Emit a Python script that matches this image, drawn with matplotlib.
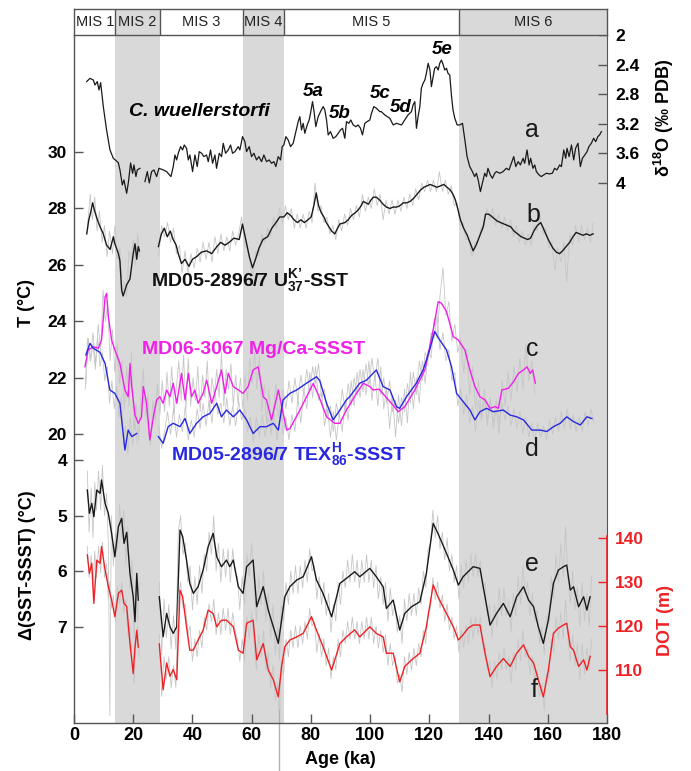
import numpy as np
import matplotlib
matplotlib.use("Agg")
import matplotlib.pyplot as plt

plt.rcParams['font.family'] = ['Liberation Sans', 'DejaVu Sans']
plt.rcParams['font.weight'] = 'bold'
plt.rcParams['mathtext.fontset'] = 'custom'
plt.rcParams['mathtext.rm'] = 'Liberation Sans:bold'
plt.rcParams['mathtext.it'] = 'Liberation Sans:bold:italic'
plt.rcParams['mathtext.bf'] = 'Liberation Sans:bold'

nan = np.nan

# MIS stages (ka)
mis_names = ["MIS 1", "MIS 2", "MIS 3", "MIS 4", "MIS 5", "MIS 6"]
mis_start = [0, 14, 29, 57, 71, 130]
mis_end = [14, 29, 57, 71, 130, 180]
mis_shaded = [False, True, False, True, False, True]

# a: C. wuellerstorfi d18O
d18_age = [4.28, 5.4, 6.52, 7.09, 7.87, 8.44, 9.0, 9.9, 11.0, 12.15, 13.27, 14.96, 15.52, 16.31, 16.87,
           17.78, 18.34, 19.12, 19.8, 20.25, 20.92, 21.37, 22.27, nan,
           23.96, 24.75, 25.42, 26.21, 27.0, 27.9, 28.69, 30.15, 31.27, 32.74, 33.52, 34.09, 34.65, 35.21,
           36.0, 36.67, 37.24, 38.02, 38.59, 39.15, 40.05, 40.84, 41.62, 42.3, 43.09, 43.87, 44.77, 45.34,
           46.12, 46.8, 47.59, 48.15, 49.05, 49.84, 50.4, 51.19, 52.09, 52.87, 53.55, 54.34, 55.46, 56.02,
           56.92, 57.71, 58.27, 59.17, 59.96, 60.75, 61.65, 62.44, 63.34, 64.12, 65.02, 65.92, 66.71, 67.5,
           68.17, 68.96, 69.75, 70.31, 70.87, 71.55, 72.33, 73.12, 74.02, 74.92, 75.71, 76.27, 76.84, 77.4,
           77.96, 78.75, 79.42, 79.87, 80.55, 81.0, 81.67, 82.46, 83.25, 84.15, 84.71, 85.28, 85.84, 86.62,
           87.52, 88.42, 89.21, 90.0, 90.68, 91.46, 92.02, 92.81, 93.49, 94.27, 95.17, 95.96, 96.75, 97.42,
           98.21, 99.0, 99.9, 100.46, 101.25, 102.15, 103.27, 103.8, 104.96, 106.65, 107.8, 108.9, 110.6,
           111.7, 112.8, 113.96, 114.5, 115.1, 115.65, 116.2, 116.8, 117.3, 117.9, 118.5, 119.0, 119.6,
           120.2, 120.7, 121.3, 121.8, 122.4, 123.0, 123.5, 124.1, 124.7, 125.2, 125.8, 126.3, 126.9, 127.5,
           128.0, 128.6, 129.4, 130.3, 131.2, 132.0, 132.75, 133.65, 134.55, 135.3, 135.9, 136.5, 137.25,
           137.9, 138.7, 139.3, 139.8, 140.6, 141.3, 142.1, 142.65, 143.8, 144.9, 146.0, 146.9, 147.7,
           148.5, 149.2, 150.0, 150.75, 151.65, 152.2, 153.0, 153.7, 154.2, 155.0, 155.6, 156.15, 157.05,
           157.8, 158.6, 159.5, 160.65, 161.55, 162.3, 163.1, 164.0, 164.6, 165.4, 166.05, 166.5, 167.2,
           168.0, 168.75, 169.4, 170.2, 171.0, 171.7, 172.5, 173.25, 173.9, 174.7, 175.5, 176.2, 176.9,
           177.5, 178.1]
d18_val = [2.63, 2.586, 2.608, 2.676, 2.63, 2.743, 2.644, 2.968, 3.284, 3.554, 3.667, 3.725, 3.824, 4.027,
           3.96, 4.14, 4.0, 3.73, 3.87, 3.757, 3.914, 3.824, 3.802, nan,
           3.982, 3.847, 4.0, 3.847, 3.824, 3.914, 3.802, 3.824, 3.847, 3.914, 3.779, 3.622, 3.689, 3.599,
           3.509, 3.554, 3.487, 3.532, 3.689, 3.622, 3.847, 3.622, 3.779, 3.577, 3.599, 3.644, 3.622, 3.712,
           3.554, 3.734, 3.622, 3.802, 3.599, 3.644, 3.464, 3.599, 3.554, 3.487, 3.599, 3.577, 3.509, 3.554,
           3.374, 3.442, 3.577, 3.509, 3.644, 3.599, 3.689, 3.644, 3.712, 3.622, 3.712, 3.689, 3.734, 3.712,
           3.779, 3.644, 3.689, 3.509, 3.487, 3.374, 3.419, 3.509, 3.464, 3.306, 3.171, 3.104, 3.284, 3.194,
           3.329, 3.216, 3.149, 3.059, 2.901, 3.014, 3.239, 3.104, 3.036, 2.968, 3.014, 3.149, 3.351, 3.306,
           3.396, 3.374, 3.329, 3.284, 3.261, 3.396, 3.171, 3.194, 3.149, 3.216, 3.239, 3.216, 3.261, 3.351,
           3.194, 3.171, 3.149, 3.059, 2.968, 2.991, 3.036, 3.036, 3.081, 3.126, 3.216, 3.194, 3.216,
           3.149, 3.081, 3.036, 2.946, 2.901, 3.261, 3.104, 2.968, 2.721, 2.653, 2.608, 2.518, 2.383,
           2.473, 2.698, 2.563, 2.45, 2.428, 2.473, 2.383, 2.338, 2.405, 2.473, 2.45, 2.518, 2.541, 2.833,
           3.014, 3.126, 3.216, 3.216, 3.194, 3.419, 3.644, 3.779, 3.847, 3.914, 3.869, 3.959, 4.117,
           4.004, 3.869, 3.914, 3.802, 3.892, 3.937, 3.869, 3.847, 3.869, 3.847, 3.802, 3.824, 3.734,
           3.644, 3.779, 3.712, 3.757, 3.667, 3.734, 3.554, 3.757, 3.667, 3.802, 3.757, 3.847, 3.892,
           3.914, 3.892, 3.869, 3.878, 3.869, 3.802, 3.824, 3.757, 3.779, 3.554, 3.667, 3.531, 3.644,
           3.487, 3.689, 3.531, 3.464, 3.779, 3.667, 3.622, 3.577, 3.509, 3.464, 3.396, 3.442, 3.374,
           3.351, 3.306]

# b: MD05-2896/7 UK'37-SST (smoothed)
sst_age = [4.3, 5.0, 5.6, 6.3, 7.0, 7.9, 8.8, 9.9, 11.0, 12.2, 13.3, 13.8, 15.0, 15.5, 16.1, 16.6, 17.2,
           17.8, 18.9, 19.5, 20.0, 20.6, 21.2, 21.7, 22.1, nan,
           28.5, 29.5, 30.5, 31.5, 32.5, 33.5, 34.5, 35.2, 36.3, 37.5, 38.8, 40.0, 41.5, 43.0, 44.8, 46.5,
           47.9, 49.5, 51.0, 52.4, 54.0, 55.8, 56.9, 58.0, 59.2, 60.3, 61.3, 62.5, 63.8, 65.4, 66.8, 68.2,
           69.5, 70.9, 72.0, 73.2, 74.3, 75.5, 76.6, 77.8, 79.0, 80.1, 81.0, 81.8, 82.6, 83.5, 84.4, 85.2,
           86.1, 87.0, 88.1, 89.0, 89.8, 91.5, 92.6, 93.7, 95.0, 96.0, 97.0, 97.7, 98.6, 99.4, 100.3,
           101.1, 102.1, 103.2, 104.4, 105.5, 106.7, 107.8, 109.0, 110.1, 111.2, 112.4, 113.5, 114.6,
           115.8, 117.0, 118.1, 119.2, 120.3, 121.5, 122.6, 123.7, 124.9, 126.0, 127.1, 128.0, 128.8,
           129.7, 130.5, 131.6, 132.8, 133.9, 134.8, 135.8, 136.9, 138.2, 139.0, 140.0, 140.7, 141.8,
           143.0, 144.1, 145.2, 146.4, 147.5, 148.6, 149.8, 151.0, 152.1, 153.2, 154.2, 155.3, 156.5,
           157.6, 158.5, 159.3, 160.4, 161.7, 162.9, 164.0, 165.0, 166.2, 167.4, 168.5, 169.6, 170.8,
           171.9, 173.0, 174.2, 175.3]
sst_val = [27.1, 27.6, 27.85, 28.2, 27.9, 27.6, 27.35, 27.1, 26.7, 26.55, 27.0, 26.75, 26.4, 26.15, 25.1,
           24.9, 25.1, 25.3, 25.5, 26.0, 26.4, 26.75, 26.2, 26.65, 26.5, nan,
           26.65, 27.1, 27.3, 27.0, 27.2, 26.9, 26.7, 26.4, 26.05, 26.2, 25.95, 26.2, 26.3, 26.45, 26.5,
           26.4, 26.6, 26.8, 26.7, 26.8, 26.95, 26.9, 27.45, 26.9, 26.3, 25.9, 26.2, 26.6, 26.9, 27.0, 27.3,
           27.5, 27.7, 27.7, 27.85, 27.75, 27.6, 27.5, 27.6, 27.5, 27.6, 27.7, 28.1, 28.55, 28.1, 27.85,
           27.7, 27.5, 27.35, 27.2, 27.1, 27.3, 27.45, 27.5, 27.6, 27.75, 27.85, 27.95, 28.1, 28.25, 28.2,
           28.15, 28.3, 28.4, 28.4, 28.3, 28.15, 28.05, 28.0, 28.05, 28.05, 28.1, 28.2, 28.2, 28.25, 28.35,
           28.5, 28.65, 28.75, 28.8, 28.85, 28.8, 28.75, 28.8, 28.85, 28.75, 28.65, 28.5, 28.3, 27.95,
           27.6, 27.3, 27.05, 26.75, 26.5, 26.7, 27.0, 27.35, 27.8, 27.8, 27.75, 27.65, 27.55, 27.5, 27.45,
           27.4, 27.35, 27.2, 27.1, 27.0, 26.95, 26.9, 26.95, 27.2, 27.4, 27.5, 27.3, 27.1, 26.85, 26.6,
           26.45, 26.4, 26.5, 26.65, 26.8, 27.0, 27.15, 27.1, 27.05, 27.1, 27.05, 27.1]

# b raw (grey)
sst_raw_age = [4.5, 5.5, 6.2, 7.0, 7.8, 8.6, 9.5, 10.3, 11.2, 12.0, 13.0, 13.8, 14.6, 15.5, 16.3, 17.0,
               17.8, 18.6, 19.3, 20.1, 20.8, 21.5, 22.2, nan,
               28.6, 29.6, 30.6, 31.6, 32.6, 33.6, 34.6, 35.6, 36.5, 37.5, 38.5, 39.5, 40.6, 41.6, 42.6,
               43.6, 44.6, 45.6, 46.6, 47.6, 48.6, 49.6, 50.6, 51.6, 52.6, 53.6, 54.6, 55.6, 56.6, 57.6,
               58.6, 59.6, 60.4, 61.4, 62.4, 63.4, 64.4, 65.4, 66.4, 67.4, 68.4, 69.4, 70.4, 71.4, 72.4,
               73.4, 74.4, 75.4, 76.4, 77.4, 78.4, 79.4, 80.4, 81.4, 82.4, 83.4, 84.4, 85.4, 86.4, 87.4,
               88.4, 89.4, 90.4, 91.4, 92.4, 93.4, 94.4, 95.4, 96.4, 97.4, 98.4, 99.4, 100.4, 101.4, 102.4,
               103.4, 104.4, 105.4, 106.4, 107.4, 108.4, 109.4, 110.4, 111.4, 112.4, 113.4, 114.4, 115.4,
               116.4, 117.4, 118.4, 119.4, 120.4, 121.4, 122.4, 123.4, 124.4, 125.4, 126.4, 127.4, 128.4,
               129.4, 130.4, 131.4, 132.4, 133.4, 134.4, 135.4, 136.4, 137.4, 138.4, 139.4, 140.4, 141.4,
               142.4, 143.4, 144.4, 145.4, 146.4, 147.4, 148.4, 149.4, 150.4, 151.4, 152.4, 153.4, 154.4,
               155.4, 156.4, 157.4, 158.4, 159.4, 160.4, 161.4, 162.4, 163.4, 164.4, 165.4, 166.4, 167.4,
               168.4, 169.4, 170.4, 171.4, 172.4, 173.4, 174.4, 175.4]
sst_raw = [27.3, 28.5, 27.6, 28.4, 27.2, 27.9, 26.8, 27.4, 26.3, 27.2, 26.4, 27.4, 26.2, 26.6, 24.9, 25.4,
           24.9, 26.5, 26.2, 26.9, 26.0, 27.1, 26.3, nan,
           26.3, 27.4, 27.0, 27.5, 26.8, 27.3, 26.4, 26.7, 25.7, 26.5, 25.7, 26.4, 25.9, 26.6, 26.1, 26.8,
           26.2, 26.8, 26.1, 27.0, 26.4, 27.1, 26.5, 27.0, 26.5, 27.2, 26.7, 27.1, 27.7, 26.7, 26.6, 26.0,
           25.6, 26.5, 26.3, 27.1, 26.8, 27.3, 27.0, 27.7, 27.3, 28.0, 27.5, 28.1, 27.6, 28.0, 27.3, 27.8,
           27.3, 27.8, 27.3, 27.9, 27.5, 28.9, 27.9, 28.1, 27.5, 27.7, 27.1, 27.4, 26.9, 27.6, 27.2, 27.8,
           27.4, 28.0, 27.6, 28.1, 27.7, 28.5, 27.9, 28.4, 28.0, 28.7, 28.1, 28.5, 27.6, 28.3, 27.8, 28.3,
           27.8, 28.3, 27.9, 28.4, 28.0, 28.5, 28.1, 28.7, 28.3, 28.9, 28.6, 29.0, 28.6, 29.0, 28.6, 29.3,
           28.6, 29.0, 28.5, 28.8, 28.1, 28.2, 27.4, 27.5, 26.9, 26.9, 26.3, 26.8, 26.8, 27.3, 27.4, 28.0,
           27.6, 28.0, 27.4, 27.8, 27.3, 27.7, 27.2, 27.6, 27.0, 27.4, 26.8, 27.2, 26.7, 27.1, 26.7, 27.4,
           27.2, 27.8, 27.1, 27.3, 26.6, 26.8, 25.8, 26.6, 26.1, 26.8, 25.4, 27.1, 26.7, 27.4, 26.8, 27.4,
           26.9, 27.3, 26.8, 27.5]

# c: MD06-3067 Mg/Ca-SSST (smoothed)
mg_age = [3.7, 4.8, 6.5, 8.2, 9.3, 10.5, 11.0, 11.6, 12.7, 13.8, 15.5, 17.2, 18.3, 18.9, 19.5, 20.6, 21.7,
          22.8, 23.4, 24.5, 25.6, 26.8, 27.9, 29.0, 30.1, 31.3, 32.4, 33.5, 34.7, 36.3, 37.5, 38.6, 39.7,
          40.8, 41.9, 43.6, 44.8, 46.5, 48.2, 49.8, 51.0, 52.1, 53.8, 55.5, 57.1, 58.8, 60.5, 62.2, 63.9,
          65.0, 66.7, 69.0, 71.8, 72.9, 76.3, 80.8, 82.5, 85.3, 88.0, 89.8, 92.0, 95.4, 97.7, 99.9, 101.0,
          103.0, 105.5, 108.0, 109.5, 111.7, 115.1, 118.5, 121.3, 123.0, 124.1, 125.8, 128.1, 129.8,
          132.0, 133.7, 135.4, 137.1, 138.8, 140.5, 142.2, 143.3, 144.5, 146.7, 148.4, 150.1, 151.8,
          153.0, 154.1, 154.9, 155.8]
mg_sst = [22.39, 22.99, 23.1, 23.05, 23.34, 24.87, 24.99, 24.17, 23.34, 22.99, 22.51, 21.57, 21.33, 22.51,
          21.69, 20.68, 20.39, 20.62, 21.69, 21.1, 19.8, 20.62, 21.22, 21.33, 21.1, 21.57, 21.33, 21.81,
          21.1, 22.16, 21.22, 22.16, 21.33, 21.57, 21.1, 21.45, 21.92, 21.1, 21.69, 22.28, 21.45, 22.16,
          21.69, 21.57, 21.45, 21.69, 22.28, 22.39, 21.33, 21.22, 20.51, 21.57, 20.15, 20.2, 20.86, 21.8,
          21.4, 20.62, 20.39, 20.39, 20.86, 21.45, 21.81, 21.69, 21.57, 21.6, 21.3, 21.0, 20.8, 20.98,
          21.57, 22.28, 23.7, 24.7, 24.64, 24.35, 23.46, 23.34, 22.99, 22.28, 21.69, 21.33, 21.22, 20.92,
          20.98, 20.92, 21.57, 21.63, 21.86, 22.16, 22.28, 22.39, 22.16, 22.28, 21.81]

mg_raw_age = [3.8, 4.6, 5.5, 6.4, 7.3, 8.2, 9.0, 9.8, 10.6, 11.4, 12.2, 13.0, 13.8, 14.6, 15.4, 16.2, 17.0,
              17.8, 18.6, 19.4, 20.2, 21.0, 21.8, 22.6, 23.4, 24.2, 25.0, 25.8, 26.6, 27.4, 28.2, 29.0,
              29.8, 30.6, 31.4, 32.2, 33.0, 33.8, 34.6, 35.4, 36.2, 37.0, 37.8, 38.6, 39.4, 40.2, 41.0,
              41.8, 42.6, 43.4, 44.2, 45.0, 45.8, 46.6, 47.4, 48.2, 49.0, 49.8, 50.6, 51.4, 52.2, 53.0,
              53.8, 54.6, 55.4, 56.2, 57.0, 57.8, 58.6, 59.4, 60.2, 61.0, 61.8, 62.6, 63.4, 64.2, 65.0,
              65.8, 66.6, 67.4, 68.2, 69.0, 69.8, 70.6, 71.6, 72.6, 73.6, 74.6, 75.6, 76.6, 77.6, 78.6,
              79.6, 80.6, 81.6, 82.6, 83.6, 84.6, 85.6, 86.6, 87.6, 88.6, 89.6, 90.6, 91.6, 92.6, 93.6,
              94.6, 95.6, 96.6, 97.6, 98.6, 99.6, 100.6, 101.6, 102.6, 103.6, 104.6, 105.6, 106.6, 107.6,
              108.6, 109.6, 110.6, 111.6, 112.6, 113.6, 114.6, 115.6, 116.6, 117.6, 118.6, 119.6, 120.6,
              121.6, 122.6, 123.6, 124.6, 125.6, 126.6, 127.6, 128.6, 129.6, 130.6, 131.6, 132.6, 133.6,
              134.6, 135.6, 136.6, 137.6, 138.6, 139.6, 140.6, 141.6, 142.6, 143.6, 144.6, 145.6, 146.6,
              147.6, 148.6, 149.6, 150.6, 151.6, 152.6, 153.6, 154.6, 155.6]
mg_raw = [21.6, 23.4, 22.6, 23.6, 22.5, 23.9, 22.9, 25.1, 24.0, 24.6, 22.6, 23.7, 22.2, 23.2, 21.8, 22.6,
          20.9, 22.4, 21.0, 22.9, 20.2, 21.1, 19.8, 21.3, 22.3, 20.6, 21.4, 19.6, 21.2, 20.5, 21.8, 20.7,
          21.9, 20.8, 22.2, 21.0, 22.4, 20.7, 21.7, 22.6, 21.2, 22.8, 20.9, 22.7, 21.0, 22.0, 21.2, 22.4,
          20.8, 22.1, 21.3, 22.6, 20.8, 22.0, 21.4, 22.3, 21.3, 22.9, 21.0, 22.3, 21.6, 22.5, 21.0, 22.1,
          21.1, 22.0, 20.9, 22.1, 21.2, 22.7, 21.8, 22.9, 21.6, 22.8, 20.8, 21.8, 20.4, 21.6, 20.1, 20.9,
          21.8, 20.6, 21.3, 20.0, 20.6, 19.8, 20.7, 20.1, 21.3, 20.4, 21.6, 20.9, 22.2, 21.3, 22.4, 21.2,
          21.5, 20.3, 20.9, 19.9, 20.8, 19.8, 20.7, 20.1, 21.2, 20.5, 21.9, 21.0, 22.2, 21.3, 22.3, 21.4,
          22.6, 21.2, 22.1, 21.0, 22.4, 20.9, 21.6, 20.2, 21.3, 19.9, 21.4, 20.3, 21.6, 20.4, 22.2, 20.9,
          22.0, 21.1, 22.6, 21.8, 23.0, 22.7, 24.1, 23.4, 24.9, 25.9, 24.2, 24.7, 23.3, 23.9, 22.9, 23.4,
          22.2, 23.0, 21.4, 22.4, 20.9, 21.9, 20.6, 21.6, 20.3, 21.3, 20.2, 20.9, 20.0, 21.9, 21.0, 22.2,
          21.2, 22.4, 21.5, 22.7, 21.6, 23.2, 21.9, 22.6, 21.4]

# d: MD05-2896/7 TEXH86-SSST (smoothed)
tex_age = [4.0, 5.4, 6.5, 8.8, 10.5, 12.1, 13.8, 15.5, 16.6, 17.2, 18.3, 19.5, 21.2, nan,
           28.5, 30.1, 31.8, 33.5, 35.8, 37.5, 39.1, 41.4, 43.6, 45.9, 48.2, 49.8, 51.5, 53.8, 56.0, 58.3,
           60.5, 62.8, 65.0, 67.3, 69.0, 70.6, 72.9, 75.2, 78.5, 81.9, 83.0, 85.3, 87.5, 89.8, 92.0, 93.1,
           96.5, 98.8, 102.1, 104.4, 106.7, 108.9, 110.0, 112.3, 115.6, 117.9, 120.1, 121.8, 123.5, 125.8,
           127.5, 129.2, 131.4, 133.7, 135.4, 137.1, 139.3, 141.6, 145.0, 147.3, 149.5, 151.8, 154.6,
           157.4, 159.7, 161.9, 164.2, 166.4, 168.7, 171.0, 173.2, 174.9]
tex_sst = [22.81, 23.22, 23.05, 22.9, 22.51, 21.57, 21.45, 21.1, 20.03, 19.44, 20.15, 19.92, 20.03, nan,
           19.92, 19.68, 20.27, 20.39, 20.27, 20.56, 20.03, 20.39, 20.62, 20.74, 21.1, 20.62, 20.86, 20.62,
           20.86, 20.51, 20.03, 20.27, 20.27, 20.39, 20.15, 21.22, 21.45, 21.57, 21.81, 22.04, 21.9, 21.1,
           20.51, 20.86, 21.22, 21.33, 21.81, 21.92, 22.28, 21.69, 21.57, 20.98, 20.92, 21.33, 21.81,
           22.28, 22.99, 23.64, 23.34, 22.99, 22.39, 21.45, 21.16, 20.86, 20.51, 20.8, 20.92, 20.8, 20.86,
           20.68, 20.62, 20.51, 20.15, 20.15, 20.1, 20.27, 20.39, 20.62, 20.45, 20.33, 20.62, 20.56]

tex_raw_age = [4.0, 4.8, 5.6, 6.4, 7.2, 8.0, 8.8, 9.6, 10.4, 11.2, 12.0, 12.8, 13.6, 14.4, 15.2, 16.0,
               16.8, 17.4, 18.2, 19.0, 19.8, 20.6, 21.3, nan,
               28.6, 29.6, 30.6, 31.6, 32.6, 33.6, 34.6, 35.6, 36.6, 37.6, 38.6, 39.6, 40.6, 41.6, 42.6,
               43.6, 44.6, 45.6, 46.6, 47.6, 48.6, 49.6, 50.6, 51.6, 52.6, 53.6, 54.6, 55.6, 56.6, 57.6,
               58.6, 59.6, 60.6, 61.6, 62.6, 63.6, 64.6, 65.6, 66.6, 67.6, 68.6, 69.6, 70.6, 71.6, 72.6,
               73.6, 74.6, 75.6, 76.6, 77.6, 78.6, 79.6, 80.6, 81.6, 82.6, 83.6, 84.6, 85.6, 86.6, 87.6,
               88.6, 89.6, 90.6, 91.6, 92.6, 93.6, 94.6, 95.6, 96.6, 97.6, 98.6, 99.6, 100.6, 101.6, 102.6,
               103.6, 104.6, 105.6, 106.6, 107.6, 108.6, 109.6, 110.6, 111.6, 112.6, 113.6, 114.6, 115.6,
               116.6, 117.6, 118.6, 119.6, 120.6, 121.6, 122.6, 123.6, 124.6, 125.6, 126.6, 127.6, 128.6,
               129.6, 130.6, 131.6, 132.6, 133.6, 134.6, 135.6, 136.6, 137.6, 138.6, 139.6, 140.6, 141.6,
               142.6, 143.6, 144.6, 145.6, 146.6, 147.6, 148.6, 149.6, 150.6, 151.6, 152.6, 153.6, 154.6,
               155.6, 156.6, 157.6, 158.6, 159.6, 160.6, 161.6, 162.6, 163.6, 164.6, 165.6, 166.6, 167.6,
               168.6, 169.6, 170.6, 171.6, 172.6, 173.6, 174.6, 175.6]
tex_raw = [21.8, 23.4, 22.6, 23.2, 22.3, 23.4, 22.4, 22.9, 21.9, 22.4, 21.1, 21.9, 20.9, 21.7, 20.6, 21.3,
           19.6, 20.3, 19.3, 20.6, 19.6, 20.5, 19.7, nan,
           20.3, 19.5, 20.1, 20.8, 20.0, 20.9, 19.9, 20.7, 20.1, 21.0, 19.8, 20.5, 19.9, 20.9, 20.2, 21.1,
           20.3, 21.2, 20.4, 21.5, 20.7, 21.1, 20.4, 21.3, 20.3, 21.0, 20.3, 21.2, 20.5, 20.9, 20.1, 20.6,
           19.7, 20.6, 19.9, 20.7, 19.9, 20.6, 20.0, 20.8, 19.8, 20.7, 21.6, 20.9, 21.9, 21.1, 22.0, 21.2,
           22.1, 21.4, 22.3, 21.5, 22.4, 21.8, 22.5, 21.3, 21.6, 20.6, 21.0, 20.1, 21.1, 20.6, 21.6, 20.8,
           21.8, 21.0, 22.0, 21.4, 22.3, 21.5, 22.5, 21.7, 22.7, 21.9, 22.7, 21.4, 22.0, 21.1, 21.9, 20.8,
           21.2, 20.4, 21.3, 20.8, 21.8, 21.1, 22.2, 21.4, 22.6, 21.9, 22.9, 22.6, 23.6, 23.4, 24.2, 23.0,
           23.6, 22.6, 23.0, 21.9, 22.2, 21.0, 21.6, 20.7, 21.4, 20.4, 21.0, 20.1, 21.2, 20.5, 21.3, 20.5,
           21.1, 20.4, 21.2, 20.4, 21.1, 20.5, 21.0, 20.3, 20.9, 20.2, 20.8, 20.0, 20.6, 19.9, 20.4, 19.8,
           20.4, 19.9, 20.3, 19.8, 20.5, 20.0, 20.6, 20.1, 20.8, 20.2, 20.9, 20.2, 20.7, 20.1, 20.6, 20.1,
           20.8, 20.3, 20.9, 20.4]

# e: delta(SST-SSST) and f: DOT (smoothed, same ages)
dlt_age = [4.5, 5.2, 6.0, 6.7, 7.7, 8.8, 9.3, 10.5, 11.6, 12.7, 13.8, 15.0, 16.1, 16.9, 17.8, 18.9, 20.0,
           20.6, 21.2, 21.7, nan,
           28.8, 30.1, 31.3, 32.4, 33.5, 34.7, 35.8, 36.7, 38.0, 39.1, 40.3, 41.9, 43.6, 45.3, 47.0, 48.2,
           49.8, 51.5, 52.6, 53.8, 55.5, 57.1, 58.3, 60.5, 61.7, 63.9, 65.6, 67.3, 69.0, 70.1, 71.2, 72.9,
           75.2, 77.4, 80.2, 81.9, 84.1, 87.0, 89.8, 92.0, 94.8, 96.5, 99.9, 102.1, 104.4, 105.5, 107.8,
           110.0, 111.7, 114.0, 116.8, 119.0, 121.3, 122.9, 125.8, 128.1, 129.8, 131.4, 133.1, 134.8,
           137.1, 138.8, 140.5, 142.7, 145.0, 147.3, 149.5, 151.8, 153.5, 155.2, 156.8, 158.5, 160.2,
           161.9, 163.6, 165.3, 166.4, 167.6, 168.7, 170.4, 172.1, 173.2, 174.3]
dlt_val = [4.54, 4.96, 4.78, 5.02, 4.54, 4.6, 4.36, 4.78, 4.96, 5.32, 5.74, 5.2, 5.05, 5.5, 5.3, 6.04, 6.46,
           6.91, 6.04, 6.52, nan,
           6.46, 7.18, 6.76, 7.0, 7.12, 7.0, 5.26, 5.38, 5.8, 6.22, 6.4, 6.28, 5.98, 5.56, 5.32, 5.74,
           5.92, 5.8, 5.92, 5.8, 6.28, 6.4, 5.92, 5.8, 6.64, 6.28, 6.7, 7.0, 7.3, 6.88, 6.46, 6.28, 6.16,
           6.1, 5.74, 6.16, 6.4, 6.82, 6.22, 6.13, 6.01, 6.1, 5.95, 6.1, 6.28, 6.67, 6.52, 7.06, 6.76,
           6.64, 6.55, 6.04, 5.14, 5.32, 5.68, 5.98, 6.25, 6.1, 6.01, 5.92, 5.95, 6.46, 6.97, 6.76, 6.58,
           6.82, 6.46, 6.28, 6.52, 6.64, 7.0, 7.3, 6.88, 6.22, 5.98, 5.92, 5.89, 6.34, 6.28, 6.64, 6.46,
           6.7, 6.46]
dot_val = [136.1, 131.9, 134.2, 125.1, 134.9, 134.2, 138.0, 132.7, 128.9, 125.9, 122.1, 127.4, 128.1, 125.1,
           124.4, 116.0, 109.2, 115.2, 119.0, 115.2, nan,
           115.9, 105.5, 111.6, 108.6, 110.1, 107.8, 128.1, 126.6, 119.8, 114.5, 114.5, 116.8, 119.0, 123.6,
           122.8, 119.8, 121.3, 121.3, 120.6, 119.8, 114.5, 113.8, 120.6, 121.3, 112.3, 116.0, 110.0, 107.8,
           103.9, 110.8, 115.3, 116.8, 117.5, 118.3, 122.1, 119.0, 115.3, 110.0, 116.0, 117.5, 119.1, 117.5,
           119.8, 118.3, 117.5, 113.8, 113.8, 107.3, 110.8, 112.3, 113.8, 119.8, 129.3, 126.6, 122.8, 119.8,
           116.8, 118.0, 119.5, 120.2, 120.2, 113.8, 108.5, 110.8, 112.6, 110.8, 113.8, 115.7, 113.1, 111.6,
           107.8, 103.9, 110.0, 118.3, 119.5, 120.2, 120.6, 115.3, 114.5, 110.8, 112.3, 110.0, 113.1]

# raw (grey) for e and f
ef_raw_age = [4.5, 5.1, 5.8, 6.4, 7.0, 7.6, 8.3, 9.0, 9.6, 10.3, 11.0, 11.6, 12.1, 12.6, 13.3, 14.0, 14.7,
              15.4, 16.1, 16.8, 17.5, 18.2, 18.9, 19.6, 20.3, 20.9, 21.5, 22.0, nan,
              28.8, 29.6, 30.4, 31.2, 32.0, 32.8, 33.6, 34.4, 35.2, 36.0, 36.8, 37.6, 38.4, 39.2, 40.0,
              40.8, 41.6, 42.4, 43.2, 44.0, 44.8, 45.6, 46.4, 47.2, 48.0, 48.8, 49.6, 50.4, 51.2, 52.0,
              52.8, 53.6, 54.4, 55.2, 56.0, 56.8, 57.6, 58.4, 59.2, 60.0, 60.8, 61.6, 62.4, 63.2, 64.0,
              64.8, 65.6, 66.4, 67.2, 68.0, 68.8, 69.4, 70.0, 70.8, 71.6, 72.4, 73.2, 74.0, 74.8, 75.6,
              76.4, 77.2, 78.0, 78.8, 79.6, 80.4, 81.2, 82.0, 82.8, 83.6, 84.4, 85.2, 86.0, 86.8, 87.6,
              88.4, 89.2, 90.0, 90.8, 91.6, 92.4, 93.2, 94.0, 94.8, 95.6, 96.4, 97.2, 98.0, 98.8, 99.6,
              100.4, 101.2, 102.0, 102.8, 103.6, 104.4, 105.2, 106.0, 106.8, 107.6, 108.4, 109.2, 110.0,
              110.8, 111.6, 112.4, 113.2, 114.0, 114.8, 115.6, 116.4, 117.2, 118.0, 118.8, 119.6, 120.4,
              121.2, 122.0, 122.8, 123.6, 124.4, 125.2, 126.0, 126.8, 127.6, 128.4, 129.2, 130.0, 130.8,
              131.6, 132.4, 133.2, 134.0, 134.8, 135.6, 136.4, 137.2, 138.0, 138.8, 139.6, 140.4, 141.2,
              142.0, 142.8, 143.6, 144.4, 145.2, 146.0, 146.8, 147.6, 148.4, 149.2, 150.0, 150.8, 151.6,
              152.4, 153.2, 154.0, 154.8, 155.6, 156.4, 157.2, 158.0, 158.8, 159.6, 160.4, 161.2, 162.0,
              162.8, 163.6, 164.4, 165.2, 166.0, 166.8, 167.6, 168.4, 169.2, 170.0, 170.8, 171.6, 172.4,
              173.2, 174.0, 174.8]
dlt_raw = [4.2, 5.3, 4.5, 5.4, 4.4, 4.9, 4.2, 4.9, 4.1, 5.0, 4.6, 5.5, 8.6, 5.0, 5.9, 5.3, 5.6, 4.8, 5.4,
           4.9, 5.9, 5.2, 6.3, 5.8, 7.2, 6.3, 6.9, 6.2, nan,
           6.2, 7.5, 6.5, 7.2, 6.6, 7.4, 6.8, 7.4, 5.3, 5.0, 5.7, 5.5, 6.2, 5.9, 6.7, 6.1, 6.6, 5.9, 6.4,
           5.7, 6.0, 5.3, 5.7, 5.0, 6.0, 5.5, 6.2, 5.6, 6.1, 5.6, 6.2, 5.6, 6.0, 6.1, 6.7, 6.1, 6.6, 5.7,
           6.1, 5.5, 6.2, 6.9, 6.1, 6.6, 6.0, 6.9, 6.4, 7.2, 6.6, 7.5, 7.0, 7.6, 6.6, 6.9, 6.2, 6.6, 6.0,
           6.4, 5.9, 6.4, 5.9, 6.3, 5.8, 6.2, 5.6, 6.0, 5.9, 6.5, 6.1, 6.6, 6.2, 6.8, 6.4, 7.1, 6.6, 6.9,
           6.2, 6.6, 6.0, 6.3, 5.8, 6.2, 5.7, 6.2, 5.8, 6.3, 5.8, 6.2, 5.7, 6.2, 5.8, 6.3, 5.9, 6.5, 6.1,
           6.6, 6.2, 6.9, 6.3, 6.8, 6.6, 7.1, 6.8, 7.3, 6.5, 6.9, 6.4, 6.8, 6.4, 6.8, 6.3, 6.6, 6.0, 6.3,
           5.6, 5.5, 4.9, 5.4, 5.0, 5.6, 5.3, 5.8, 5.4, 6.0, 5.7, 6.2, 5.9, 6.5, 5.9, 6.3, 5.8, 6.2, 5.7,
           6.1, 5.7, 6.1, 5.8, 6.3, 6.2, 6.8, 6.6, 7.2, 6.6, 7.0, 6.3, 6.8, 6.3, 6.8, 6.5, 7.1, 6.4, 6.8,
           6.1, 6.6, 5.9, 6.4, 6.2, 6.8, 6.4, 6.9, 6.7, 7.3, 7.0, 7.5, 6.8, 6.9, 6.1, 6.5, 5.7, 6.2, 5.5,
           6.1, 5.2, 6.1, 6.6, 6.0, 6.7, 6.3, 7.0, 6.2, 6.9, 6.4, 7.0, 6.1]
dot_raw = [138, 131, 136, 128, 137, 131, 138, 132, 139, 131, 134, 126, 130, 124, 127, 121, 129, 125, 130,
           123, 126, 118, 120, 113, 107, 117, 120, 113, nan,
           118, 104, 113, 108, 113, 106, 111, 106, 126, 130, 124, 125, 118, 120, 112, 117, 113, 119, 115,
           122, 119, 125, 121, 126, 118, 123, 118, 124, 119, 124, 118, 123, 119, 117, 112, 117, 112, 122,
           117, 123, 116, 110, 118, 113, 119, 110, 114, 106, 111, 103, 107, 101, 112, 109, 117, 113, 119,
           115, 120, 115, 120, 116, 121, 117, 124, 120, 121, 114, 118, 113, 117, 111, 115, 108, 113, 110,
           117, 113, 119, 116, 121, 117, 122, 117, 121, 116, 121, 117, 122, 117, 122, 116, 120, 115, 119,
           114, 118, 111, 116, 111, 113, 107, 109, 105, 113, 109, 114, 110, 115, 111, 116, 113, 119, 116,
           123, 124, 131, 126, 130, 124, 127, 121, 125, 119, 122, 117, 120, 114, 119, 115, 120, 116, 122,
           117, 122, 118, 122, 116, 116, 110, 112, 106, 112, 108, 114, 110, 115, 110, 113, 107, 114, 110,
           117, 112, 119, 113, 115, 109, 113, 108, 110, 104, 107, 101, 109, 108, 117, 114, 122, 117, 123,
           117, 126, 117, 112, 118, 111, 116, 108, 116, 109, 115, 110, 117]

# text items
curve_letters = ["a", "b", "c", "d", "e", "f"]
substage_labels = ["5a", "5b", "5c", "5d", "5e"]

W, H = 691, 771


def fx(px):
    return px / W


def fy(py):
    return 1 - py / H


spine_c = "#555555"
grey_raw = "#c6c6c6"
magenta = "#f020e8"
blue = "#2828e0"
red = "#ee2226"
shade = "#d9d9d9"
raw_lw = 0.6

fig = plt.figure(figsize=(6.91, 7.71), dpi=100)
ax = fig.add_axes([fx(74), fy(722.7), fx(607) - fx(74), fy(35) - fy(722.7)])
ax.set_xlim(0, 180)
ax.set_ylim(9.784, 34.145)
for lo, hi, sh in zip(mis_start, mis_end, mis_shaded):
    if sh:
        ax.axvspan(lo, hi, color=shade, lw=0, zorder=0)

ax.spines['top'].set_visible(False)
ax.spines['right'].set_visible(False)
for s in ['left', 'bottom']:
    ax.spines[s].set_color(spine_c)
    ax.spines[s].set_linewidth(1.0)
ax.set_xticks(range(0, 181, 20))
ax.set_yticks([20, 22, 24, 26, 28, 30])
ax.tick_params(axis='x', direction='in', length=6.5, width=1, color=spine_c, labelsize=13, pad=3)
ax.tick_params(axis='y', direction='in', length=6.5, width=1, color=spine_c, labelsize=12.5, pad=5)

# T panel: raw then smoothed
ax.plot(sst_raw_age, sst_raw, color=grey_raw, lw=raw_lw, zorder=1)
ax.plot(mg_raw_age, mg_raw, color=grey_raw, lw=raw_lw, zorder=1)
ax.plot(tex_raw_age, tex_raw, color=grey_raw, lw=raw_lw, zorder=1)
ax.plot(sst_age, sst_val, color="#1a1a1a", lw=1.0, zorder=3)
ax.plot(mg_age, mg_sst, color=magenta, lw=1.0, zorder=3)
ax.plot(tex_age, tex_sst, color=blue, lw=1.0, zorder=4)
ax.axvline(69.2, ymin=-0.0703, ymax=0.03, color="#b0b0b0", lw=1.0, clip_on=False)

# d18O axis (right, inverted)
ax_a = ax.twinx()
ax_a.set_ylim(11.297, 2.004)
for s in ['top', 'left', 'bottom']:
    ax_a.spines[s].set_visible(False)
ax_a.spines['right'].set_color(spine_c)
ax_a.set_yticks([2, 2.4, 2.8, 3.2, 3.6, 4])
ax_a.set_yticklabels(["2", "2.4", "2.8", "3.2", "3.6", "4"])
ax_a.tick_params(axis='y', direction='in', length=6.5, width=1, color=spine_c, labelsize=12.5, pad=6)
ax_a.plot(d18_age, d18_val, color="#1a1a1a", lw=0.9)

# delta(SST-SSST) axis (left, inverted)
ax_d = ax.twinx()
ax_d.set_ylim(8.727, -3.648)
for s in ax_d.spines.values():
    s.set_visible(False)
ax_d.yaxis.tick_left()
ax_d.set_yticks([4, 5, 6, 7])
ax_d.tick_params(axis='y', direction='in', length=6.5, width=1, color=spine_c, labelsize=12.5, pad=5)
ax_d.plot(ef_raw_age, dlt_raw, color=grey_raw, lw=raw_lw)
ax_d.plot(dlt_age, dlt_val, color="#1a1a1a", lw=1.0)

# DOT axis (right, red)
ax_o = ax.twinx()
ax_o.set_ylim(98.05, 254.0)
for s in ['top', 'left', 'bottom']:
    ax_o.spines[s].set_visible(False)
ax_o.spines['right'].set_color(red)
ax_o.spines['right'].set_linewidth(1.2)
ax_o.spines['right'].set_bounds(100, 140.5)
ax_o.set_yticks([110, 120, 130, 140])
ax_o.tick_params(axis='y', direction='in', length=6.5, width=1, color=red, labelcolor=red,
                 labelsize=12.5, pad=6)
ax_o.plot(ef_raw_age, dot_raw, color=grey_raw, lw=raw_lw)
ax_o.plot(dlt_age, dot_val, color=red, lw=1.0)

# MIS bar on top
mis_ax = fig.add_axes([fx(74), fy(35), fx(607) - fx(74), fy(9) - fy(35)])
mis_ax.set_xlim(0, 180)
mis_ax.set_ylim(0, 1)
mis_ax.set_xticks([])
mis_ax.set_yticks([])
for s in mis_ax.spines.values():
    s.set_color(spine_c)
    s.set_linewidth(1.0)
for name, lo, hi, sh in zip(mis_names, mis_start, mis_end, mis_shaded):
    if sh:
        mis_ax.axvspan(lo, hi, color=shade, lw=0)
    if lo > 0:
        mis_ax.axvline(lo, color=spine_c, lw=1.0)
    mis_ax.text((lo + hi) / 2, 0.5, name, ha='center', va='center', fontsize=10.5,
                fontweight='normal', color="#222222")

# axis titles
fig.text(fx(27), fy(303), "T (°C)", rotation=90, ha='center', va='center', fontsize=13)
fig.text(fx(28), fy(565), "Δ(SST-SSST) (°C)", rotation=90, ha='center', va='center', fontsize=13)
fig.text(fx(664), fy(118), r"δ$^{\mathrm{18}}$O (‰ PDB)", rotation=90, ha='center', va='center',
         fontsize=13)
fig.text(fx(666), fy(620), "DOT (m)", rotation=90, ha='center', va='center', fontsize=13, color=red)
fig.text(fx(340), fy(759), "Age (ka)", ha='center', va='center', fontsize=13)

# annotations
fig.text(fx(199), fy(112), "C. wuellerstorfi", ha='center', va='center', fontsize=14, style='italic')
sub_pos = [(313, 92), (340, 114), (380, 93), (401, 108), (442, 50)]
for lab, (px, py) in zip(substage_labels, sub_pos):
    fig.text(fx(px), fy(py), lab, ha='center', va='center', fontsize=13.5, style='italic')

letter_pos = [(532, 130), (533, 215), (532, 349), (532, 449), (532, 564), (534, 690)]
for lab, (px, py) in zip(curve_letters, letter_pos):
    fig.text(fx(px), fy(py), lab, ha='center', va='center', fontsize=18, fontweight='normal',
             color="#1a1a1a")

fig.text(fx(151), fy(281), "MD05-2896/7 U$^{\\mathrm{K\u2019}}_{\\mathrm{37}}$-SST", ha='left',
         va='center', fontsize=14, color="#111111")
fig.text(fx(142), fy(350), "MD06-3067 Mg/Ca-SSST", ha='left', va='center', fontsize=14, color=magenta)
fig.text(fx(171), fy(455), r"MD05-2896/7 TEX$^{\mathrm{H}}_{\mathrm{86}}$-SSST", ha='left', va='center',
         fontsize=14, color=blue)

fig.savefig("out.png", dpi=100)
